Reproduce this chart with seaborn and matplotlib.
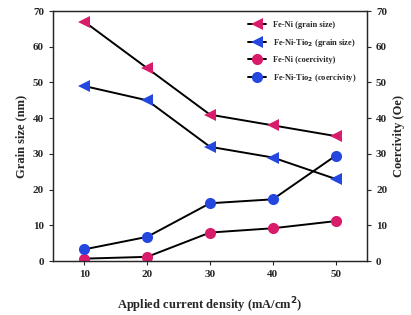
import matplotlib
matplotlib.use('Agg')
import matplotlib.pyplot as plt
import seaborn as sns
import pandas as pd

# ---- data ----
current = [10, 20, 30, 40, 50]
grain_feni = [67, 54, 41, 38, 35]
grain_feni_tio2 = [49, 45, 32, 29, 23]
coer_feni = [0.7, 1.2, 8.0, 9.2, 11.2]
coer_feni_tio2 = [3.3, 6.8, 16.2, 17.3, 29.5]

pink = "#d81b6a"
blue = "#2447e0"

sns.set_theme(style="ticks")
plt.rcParams["font.family"] = ["Liberation Serif", "DejaVu Serif"]
plt.rcParams["font.weight"] = "bold"
plt.rcParams["axes.labelweight"] = "bold"

fig = plt.figure(figsize=(4.11, 3.15), dpi=100)
ax = fig.add_axes([0.129, 0.171, 0.764, 0.794])
ax2 = ax.twinx()

df = pd.DataFrame({"x": current, "g1": grain_feni, "g2": grain_feni_tio2,
                   "c1": coer_feni, "c2": coer_feni_tio2})

common = dict(color="black", lw=1.4, markersize=8, markeredgewidth=0)
sns.lineplot(data=df, x="x", y="g1", ax=ax, marker="<", markerfacecolor=pink,
             label="Fe-Ni (grain size)", **common)
sns.lineplot(data=df, x="x", y="g2", ax=ax, marker="<", markerfacecolor=blue,
             label="Fe-Ni-Tio$_2$ (grain size)", **common)
sns.lineplot(data=df, x="x", y="c1", ax=ax2, marker="o", markerfacecolor=pink,
             label="Fe-Ni (coercivity)", **common)
sns.lineplot(data=df, x="x", y="c2", ax=ax2, marker="o", markerfacecolor=blue,
             label="Fe-Ni-Tio$_2$ (coercivity)", **common)

for a in (ax, ax2):
    a.set_ylim(0, 70)
    a.set_yticks(range(0, 71, 10))
    a.tick_params(labelsize=8, length=3, width=0.8)
    for s in a.spines.values():
        s.set_linewidth(0.9)
ax.set_xlim(5, 55)
ax.set_xticks(current)

ax.set_xlabel("Applied current density (mA/cm$^2$)", fontsize=9, labelpad=12)
ax.set_ylabel("Grain size (nm)", fontsize=9)
ax2.set_ylabel("Coercivity (Oe)", fontsize=9)

h1, l1 = ax.get_legend_handles_labels()
h2, l2 = ax2.get_legend_handles_labels()
ax.get_legend().remove()
ax2.legend(h1 + h2, l1 + l2, loc="upper right", fontsize=6, frameon=False,
           handlelength=2.2, labelspacing=0.9, bbox_to_anchor=(0.99, 0.99))

fig.savefig("out.png", dpi=100)
